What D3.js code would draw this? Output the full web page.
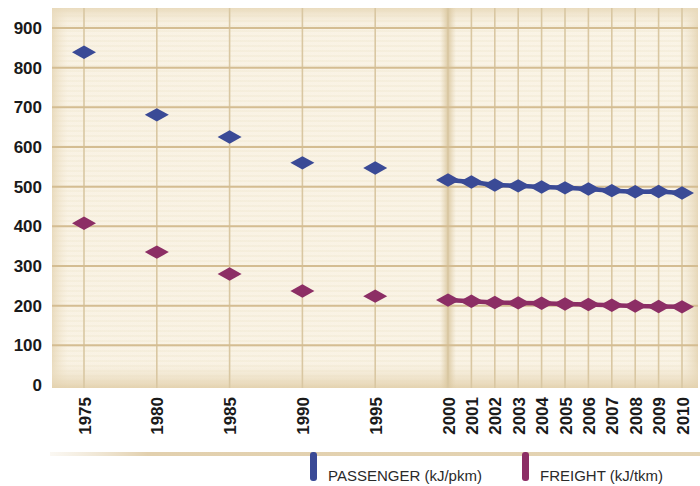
<!DOCTYPE html>
<html>
  <head>
    <meta charset="UTF-8">
    <style>
      body { margin: 0; background: #fff; }
      svg { display: block; }
    </style>
    <script src="https://d3js.org/d3.v7.min.js"></script>
  </head>
  <body>
    <script>
      // data
      var years = ["1975", "1980", "1985", "1990", "1995", "2000", "2001", "2002", "2003",
                   "2004", "2005", "2006", "2007", "2008", "2009", "2010"];
      var passenger = [839, 681, 625, 560, 547, 517, 512, 504, 502, 499, 497, 494, 490, 487, 488, 484];
      var freight = [408, 335, 280, 237, 224, 214, 211, 208, 207, 206, 204, 203, 201, 199, 198, 197];
      var yTicks = [0, 100, 200, 300, 400, 500, 600, 700, 800, 900];
      var seriesNames = ["PASSENGER (kJ/pkm)", "FREIGHT (kJ/tkm)"];
      var seriesColors = ["#3a4a96", "#8c2e65"];

      var width = 700, height = 486;
      var plot = {left: 52, right: 698, top: 8, bottom: 388};

      var svg = d3.select("body").append("svg")
        .attr("width", width)
        .attr("height", height);

      // x is not linear in time: the 5 year steps are squeezed, yearly steps after 2000
      var x = d3.scaleLinear()
        .domain([1975, 2000, 2010])
        .range([84, 448, 682]);

      var y = d3.scaleLinear()
        .domain([0, 900])
        .range([385, 28]);

      var defs = svg.append("defs");

      var stripes = defs.append("pattern")
        .attr("id", "stripes")
        .attr("patternUnits", "userSpaceOnUse")
        .attr("width", 8).attr("height", 5);
      stripes.append("rect").attr("width", 8).attr("height", 2)
        .attr("fill", "#f1e6cf").attr("opacity", 0.45);

      var hGrad = defs.append("linearGradient").attr("id", "hshade")
        .attr("x1", "0").attr("x2", "1").attr("y1", "0").attr("y2", "0");
      hGrad.append("stop").attr("offset", "0").attr("stop-color", "#e6d6b5").attr("stop-opacity", 0.9);
      hGrad.append("stop").attr("offset", "0.025").attr("stop-color", "#f4ead6").attr("stop-opacity", 0.3);
      hGrad.append("stop").attr("offset", "0.97").attr("stop-color", "#f4ead6").attr("stop-opacity", 0.2);
      hGrad.append("stop").attr("offset", "1").attr("stop-color", "#e3d2b0").attr("stop-opacity", 0.9);

      var vGrad = defs.append("linearGradient").attr("id", "vshade")
        .attr("x1", "0").attr("x2", "0").attr("y1", "0").attr("y2", "1");
      vGrad.append("stop").attr("offset", "0").attr("stop-color", "#e8d9ba").attr("stop-opacity", 0.9);
      vGrad.append("stop").attr("offset", "0.05").attr("stop-color", "#f4ead6").attr("stop-opacity", 0.1);
      vGrad.append("stop").attr("offset", "0.93").attr("stop-color", "#f4ead6").attr("stop-opacity", 0.1);
      vGrad.append("stop").attr("offset", "1").attr("stop-color", "#e3d1ad").attr("stop-opacity", 0.95);

      var fold = defs.append("linearGradient").attr("id", "fold")
        .attr("x1", "0").attr("x2", "1").attr("y1", "0").attr("y2", "0");
      fold.append("stop").attr("offset", "0").attr("stop-color", "#e0cfab").attr("stop-opacity", 0);
      fold.append("stop").attr("offset", "0.5").attr("stop-color", "#d8c49b").attr("stop-opacity", 0.85);
      fold.append("stop").attr("offset", "1").attr("stop-color", "#e0cfab").attr("stop-opacity", 0);

      var sep = defs.append("linearGradient").attr("id", "sep")
        .attr("x1", "0").attr("x2", "1").attr("y1", "0").attr("y2", "0");
      sep.append("stop").attr("offset", "0").attr("stop-color", "#e9dcc2").attr("stop-opacity", 0.2);
      sep.append("stop").attr("offset", "0.15").attr("stop-color", "#e2d0ae");
      sep.append("stop").attr("offset", "1").attr("stop-color", "#e4d4b4");

      // paper background
      ["#fcf7ec", "url(#stripes)", "url(#hshade)", "url(#vshade)"].forEach(function(f) {
        svg.append("rect")
          .attr("x", plot.left).attr("y", plot.top)
          .attr("width", plot.right - plot.left).attr("height", plot.bottom - plot.top)
          .attr("fill", f);
      });
      svg.append("rect")
        .attr("x", x(2000) - 8).attr("y", plot.top)
        .attr("width", 16).attr("height", plot.bottom - plot.top)
        .attr("fill", "url(#fold)");

      // grid
      svg.append("g").selectAll("line")
        .data(years)
        .join("line")
        .attr("x1", function(d) { return x(+d); })
        .attr("x2", function(d) { return x(+d); })
        .attr("y1", plot.top)
        .attr("y2", plot.bottom)
        .attr("stroke", "#d9c7a2")
        .attr("stroke-width", 1.6);

      svg.append("g").selectAll("line")
        .data(yTicks.filter(function(d) { return d > 0; }))
        .join("line")
        .attr("x1", plot.left)
        .attr("x2", plot.right)
        .attr("y1", function(d) { return y(d); })
        .attr("y2", function(d) { return y(d); })
        .attr("stroke", "#d4bd92")
        .attr("stroke-width", 2);

      // y axis labels
      var yAxis = svg.append("g")
        .attr("transform", "translate(" + 42 + ",0)")
        .call(d3.axisLeft(y).tickValues(yTicks).tickSize(0).tickPadding(0))
        .attr("font-size", 17)
        .attr("font-weight", "bold")
        .attr("font-family", "Liberation Sans, Arial, sans-serif");
      yAxis.select(".domain").remove();
      yAxis.selectAll("text").attr("fill", "#1a1a1a");

      // x axis labels, rotated
      var xAxis = svg.append("g")
        .attr("transform", "translate(0," + 397 + ")")
        .call(d3.axisBottom(x).tickValues(years.map(Number)).tickFormat(d3.format("d"))
          .tickSize(0).tickPadding(0))
        .attr("font-size", 17)
        .attr("font-weight", "bold")
        .attr("font-family", "Liberation Sans, Arial, sans-serif");
      xAxis.select(".domain").remove();
      xAxis.selectAll("text")
        .attr("fill", "#1a1a1a")
        .attr("transform", "rotate(-90)")
        .attr("text-anchor", "end")
        .attr("x", 0)
        .attr("y", 0)
        .attr("dy", "0.36em");

      // flattened diamond marker
      var flatDiamond = {
        draw: function(ctx, size) {
          var w = Math.sqrt(size) / 2, h = w * 0.56;
          ctx.moveTo(-w, 0);
          ctx.lineTo(0, -h);
          ctx.lineTo(w, 0);
          ctx.lineTo(0, h);
          ctx.closePath();
        }
      };
      var marker = d3.symbol().type(flatDiamond).size(576);

      // the yearly points after 2000 are joined by a line
      var line = d3.line()
        .x(function(d) { return x(+d.year); })
        .y(function(d) { return y(d.value); });

      [passenger, freight].forEach(function(values, i) {
        var pts = values.map(function(v, j) { return {year: years[j], value: v}; });
        svg.append("path")
          .datum(pts.filter(function(d) { return +d.year >= 2000; }))
          .attr("d", line)
          .attr("fill", "none")
          .attr("stroke", seriesColors[i])
          .attr("stroke-width", 4.5);
        svg.append("g").selectAll("path")
          .data(pts)
          .join("path")
          .attr("transform", function(d) { return "translate(" + x(+d.year) + "," + y(d.value) + ")"; })
          .attr("d", marker)
          .attr("fill", seriesColors[i]);
      });

      // separator under the labels
      svg.append("rect")
        .attr("x", 50).attr("y", 452)
        .attr("width", 650).attr("height", 4)
        .attr("fill", "url(#sep)");

      // legend
      var legend = svg.append("g")
        .attr("font-size", 15)
        .attr("font-family", "Liberation Sans, Arial, sans-serif");
      var legendX = [310, 522];
      seriesNames.forEach(function(name, i) {
        legend.append("rect")
          .attr("x", legendX[i]).attr("y", 452)
          .attr("width", 7).attr("height", 29)
          .attr("rx", 3)
          .attr("fill", seriesColors[i]);
        legend.append("text")
          .attr("x", legendX[i] + 18)
          .attr("y", 481)
          .attr("fill", "#2a2a2a")
          .text(name);
      });
    </script>
  </body>
</html>
